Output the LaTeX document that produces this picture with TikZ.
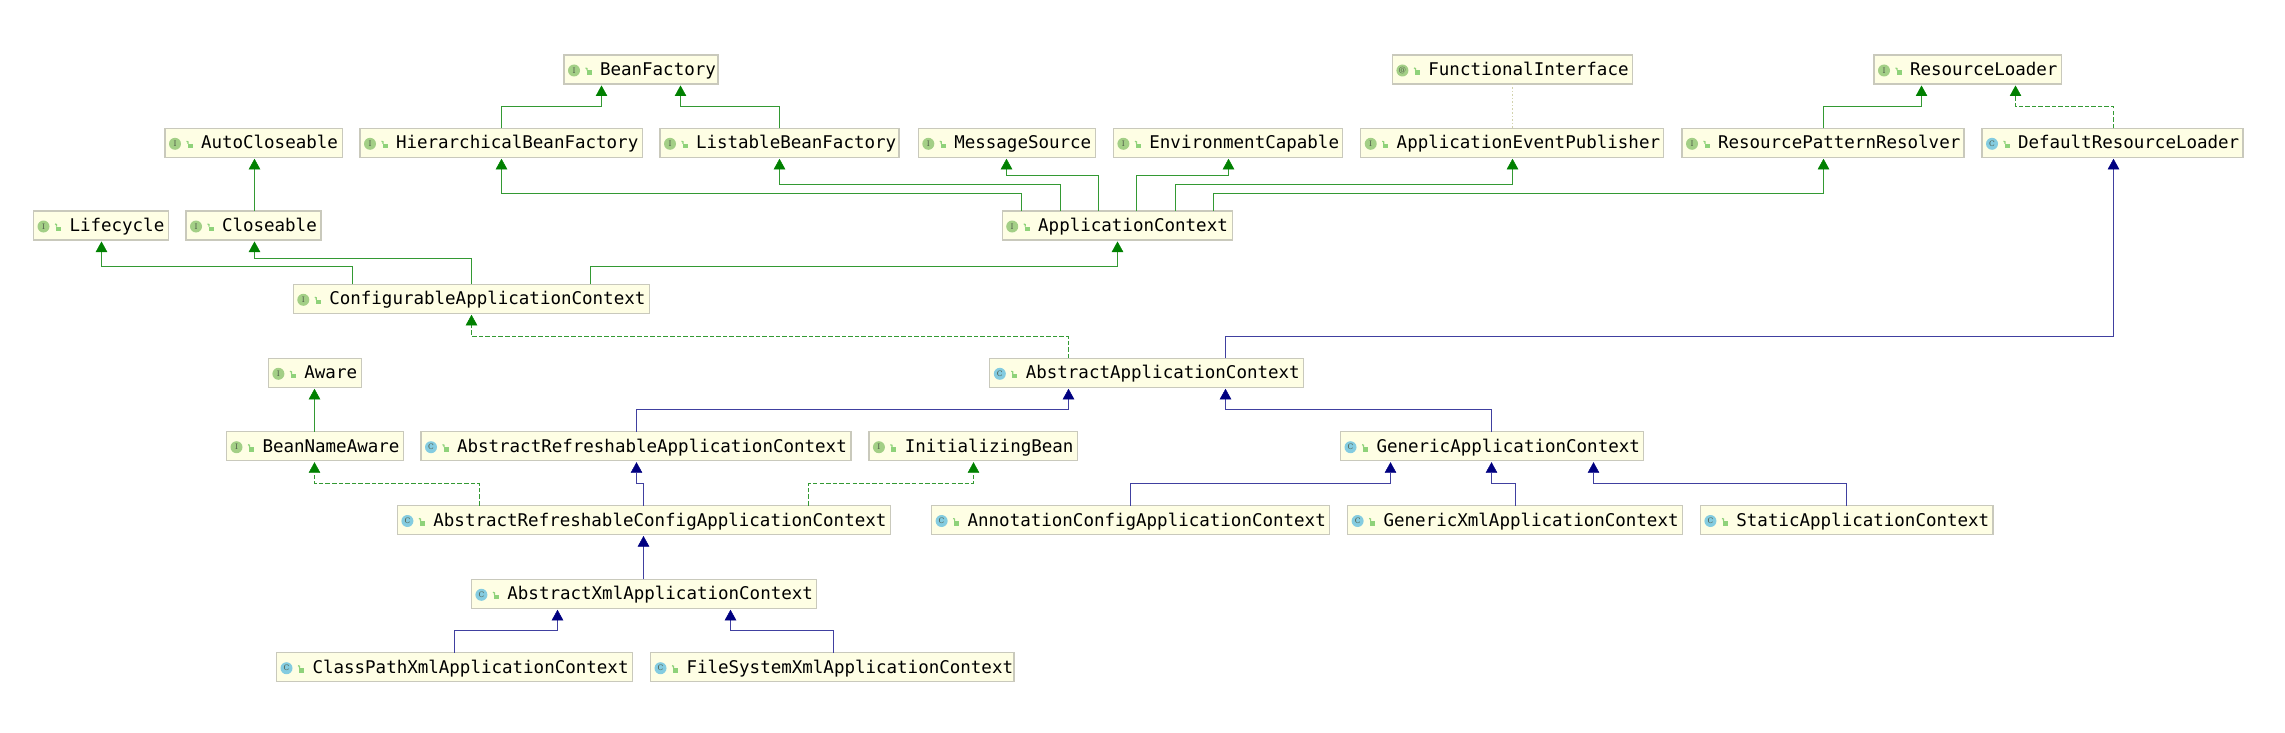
\documentclass[tikz,border=0pt]{standalone}
\usepackage{fontspec}
\setmainfont{DejaVu Sans}
\setmonofont{DejaVu Sans Mono}
\newfontfamily\iconfont{DejaVu Serif}
\usetikzlibrary{arrows.meta}
\definecolor{boxfill}{HTML}{FEFEE4}
\definecolor{boxline}{HTML}{C9C9BC}
\definecolor{ifacegreen}{HTML}{A3CF86}
\definecolor{classblue}{HTML}{84CCE0}
\definecolor{lockgreen}{HTML}{8FD27A}
\definecolor{icontext}{HTML}{4E5A48}
\definecolor{gentree}{HTML}{008000}
\definecolor{navyline}{HTML}{000080}
\definecolor{dotline}{HTML}{D2D2AC}
\colorlet{exttip}{gentree}
\colorlet{impltip}{gentree}
\colorlet{clstip}{navyline}
\tikzset{
  umlbox/.style={draw=boxline,fill=boxfill,line width=1.2bp,rectangle,inner sep=0pt,outer sep=0pt,anchor=north west,
    minimum height=29bp,text height=15bp,text depth=3bp,align=left,
    font=\fontsize{17.5bp}{20bp}\ttfamily},
  iconbase/.style={circle,inner sep=0pt,outer sep=0pt,minimum size=12bp,text=icontext,
    font=\fontsize{7.5bp}{8bp}\iconfont},
  iconI/.style={iconbase,fill=ifacegreen},
  iconC/.style={iconbase,fill=classblue},
  iconA/.style={iconbase,fill=ifacegreen},
  conn/.style={line width=1.2bp,shorten >=1.5bp},
  ext/.style={conn,color=gentree!80!white},
  impl/.style={conn,color=gentree!80!white,dash pattern=on 4.5bp off 2.1bp},
  cls/.style={conn,color=navyline!75!white},
  headtip/.style={-{Triangle[length=10.5bp,width=11.5bp,line width=0.4bp,color=#1tip,fill=#1tip]}},
}
\newcommand{\umlnode}[8]{%
  \pgfmathsetmacro{\boxw}{#4-#2}%
  \node[umlbox,minimum width=\boxw bp,text width=\boxw bp] (#1) at (#2,#3) {\hspace*{36bp}#8};
  \node[icon#6] (#1-icon) at ({#2+10},{#3+15.5}) {#7};
  \fill[lockgreen] ({#2+22.5},{#3+15.5}) rectangle ({#2+27.5},{#3+20});
  \draw[lockgreen,line width=1.2bp] ({#2+23},{#3+15.5}) -- ({#2+23},{#3+13.5}) -- ({#2+21.5},{#3+13});
}
\newcommand{\elbow}[6]{% style, source, source x, mid y, target, target x
  \draw[#1,headtip=#1] (#3,0 |- #2.north) -- (#3,#4) -- (#6,#4) -- (#6,0 |- #5.south);
}
\newcommand{\straight}[4]{% style, source, x, target
  \draw[#1,headtip=#1] (#3,0 |- #2.north) -- (#3,0 |- #4.south);
}
\begin{document}
\begin{tikzpicture}[x=1bp,y=-1bp]
\useasboundingbox (0,0) rectangle (2285,733);
\umlnode{BF}{564}{55}{718}{84}{I}{I}{BeanFactory}
\umlnode{FI}{1392.4}{55}{1632.8}{84}{A}{@}{FunctionalInterface}
\umlnode{RL}{1874}{55}{2061.8}{84}{I}{I}{ResourceLoader}
\umlnode{AuC}{165}{128.3}{342.4}{157.3}{I}{I}{AutoCloseable}
\umlnode{HBF}{360}{128.3}{642.4}{157.3}{I}{I}{HierarchicalBeanFactory}
\umlnode{LBF}{660}{128.3}{899}{157.3}{I}{I}{ListableBeanFactory}
\umlnode{MS}{918.3}{128.3}{1095.5}{157.3}{I}{I}{MessageSource}
\umlnode{EC}{1113.4}{128.3}{1342.4}{157.3}{I}{I}{EnvironmentCapable}
\umlnode{AEP}{1360.7}{128.3}{1663.3}{157.3}{I}{I}{ApplicationEventPublisher}
\umlnode{RPR}{1682}{128.3}{1964}{157.3}{I}{I}{ResourcePatternResolver}
\umlnode{DRL}{1982}{128.3}{2243}{157.3}{C}{C}{DefaultResourceLoader}
\umlnode{LC}{33.5}{211}{168.8}{240}{I}{I}{Lifecycle}
\umlnode{Cl}{186}{211}{321}{240}{I}{I}{Closeable}
\umlnode{AC}{1002.2}{211}{1232.6}{240}{I}{I}{ApplicationContext}
\umlnode{CAC}{293.3}{284.3}{649.5}{313.3}{I}{I}{ConfigurableApplicationContext}
\umlnode{Aw}{268.4}{358.3}{361.7}{387.3}{I}{I}{Aware}
\umlnode{AAC}{989.8}{358.3}{1303.4}{387.3}{C}{C}{AbstractApplicationContext}
\umlnode{BNA}{226.5}{431.7}{403.6}{461}{I}{I}{BeanNameAware}
\umlnode{ARAC}{421}{431.7}{851}{461}{C}{C}{AbstractRefreshableApplicationContext}
\umlnode{IB}{868.9}{431.7}{1077.5}{461}{I}{I}{InitializingBean}
\umlnode{GAC}{1340.5}{431.7}{1643.6}{461}{C}{C}{GenericApplicationContext}
\umlnode{ARCAC}{397.4}{505.5}{890.3}{534.5}{C}{C}{AbstractRefreshableConfigApplicationContext}
\umlnode{ACAC}{931.6}{505.5}{1329.3}{534.5}{C}{C}{AnnotationConfigApplicationContext}
\umlnode{GXAC}{1347.6}{505.5}{1682.2}{534.5}{C}{C}{GenericXmlApplicationContext}
\umlnode{SAC}{1700.4}{505.5}{1992.9}{534.5}{C}{C}{StaticApplicationContext}
\umlnode{AXAC}{471.4}{579.3}{816.3}{608.3}{C}{C}{AbstractXmlApplicationContext}
\umlnode{CPX}{276.5}{652.7}{632.7}{682}{C}{C}{ClassPathXmlApplicationContext}
\umlnode{FSX}{650.5}{652.7}{1014}{682}{C}{C}{FileSystemXmlApplicationContext}

\draw[dotline,line width=1.2bp,dash pattern=on 1.5bp off 2bp] (1512.5,0 |- FI.south) -- (1512.5,0 |- AEP.north);

\elbow{ext}{HBF}{501.5}{106.5}{BF}{601.5}
\elbow{ext}{LBF}{779.5}{106.5}{BF}{680.5}
\elbow{ext}{RPR}{1823.5}{106.5}{RL}{1921.5}
\elbow{impl}{DRL}{2113.5}{106.5}{RL}{2015.5}
\straight{ext}{Cl}{254.5}{AuC}
\elbow{ext}{AC}{1021.5}{193.5}{HBF}{501.5}
\elbow{ext}{AC}{1060.5}{184.5}{LBF}{779.5}
\elbow{ext}{AC}{1098.5}{175.5}{MS}{1006.5}
\elbow{ext}{AC}{1136.5}{175.5}{EC}{1228.5}
\elbow{ext}{AC}{1175.5}{184.5}{AEP}{1512.5}
\elbow{ext}{AC}{1213.5}{193.5}{RPR}{1823.5}
\elbow{ext}{CAC}{352.5}{266.5}{LC}{101.5}
\elbow{ext}{CAC}{471.5}{258.5}{Cl}{254.5}
\elbow{ext}{CAC}{590.5}{266.5}{AC}{1117.5}
\elbow{impl}{AAC}{1068.5}{336.5}{CAC}{471.5}
\elbow{cls}{AAC}{1225.5}{336.5}{DRL}{2113.5}
\elbow{cls}{ARAC}{636.5}{409.5}{AAC}{1068.5}
\elbow{cls}{GAC}{1491.5}{409.5}{AAC}{1225.5}
\straight{ext}{BNA}{314.5}{Aw}
\elbow{impl}{ARCAC}{479.5}{483.5}{BNA}{314.5}
\elbow{cls}{ARCAC}{643.5}{483.5}{ARAC}{636.5}
\elbow{impl}{ARCAC}{808.5}{483.5}{IB}{973.5}
\straight{cls}{AXAC}{643.5}{ARCAC}
\elbow{cls}{CPX}{454.5}{630.5}{AXAC}{557.5}
\elbow{cls}{FSX}{833.5}{630.5}{AXAC}{730.5}
\elbow{cls}{ACAC}{1130.5}{483.5}{GAC}{1390.5}
\elbow{cls}{GXAC}{1515.5}{483.5}{GAC}{1491.5}
\elbow{cls}{SAC}{1846.5}{483.5}{GAC}{1593.5}
\end{tikzpicture}
\end{document}
